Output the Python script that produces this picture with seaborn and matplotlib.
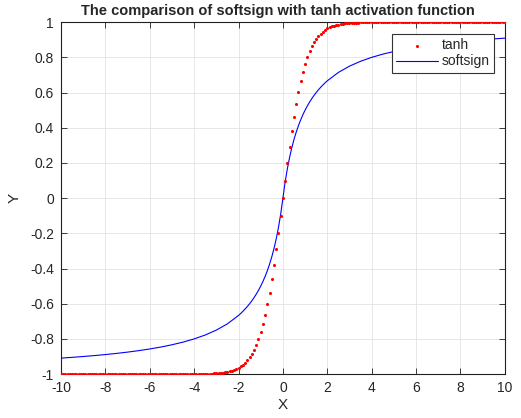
import numpy as np
import pandas as pd
import matplotlib
matplotlib.use("Agg")
import matplotlib.pyplot as plt
import seaborn as sns

# tanh samples, x = -10 .. 10 step 0.1
tanh_y = [
    -1.0, -1.0, -1.0, -1.0, -1.0, -1.0, -1.0, -1.0, -1.0, -1.0,
    -1.0, -1.0, -1.0, -1.0, -1.0, -1.0, -1.0, -1.0, -1.0, -1.0,
    -1.0, -1.0, -1.0, -1.0, -1.0, -1.0, -1.0, -1.0, -1.0, -1.0,
    -1.0, -1.0, -1.0, -1.0, -1.0, -1.0, -1.0, -1.0, -1.0, -1.0,
    -1.0, -1.0, -1.0, -1.0, -1.0, -1.0, -1.0, -1.0, -1.0, -1.0,
    -0.9999, -0.9999, -0.9999, -0.9998, -0.9998, -0.9998, -0.9997, -0.9996, -0.9996, -0.9995,
    -0.9993, -0.9992, -0.9990, -0.9988, -0.9985, -0.9982, -0.9978, -0.9973, -0.9967, -0.9959,
    -0.9951, -0.9940, -0.9926, -0.9910, -0.9890, -0.9866, -0.9837, -0.9801, -0.9757, -0.9705,
    -0.9640, -0.9562, -0.9468, -0.9354, -0.9217, -0.9051, -0.8854, -0.8617, -0.8337, -0.8005,
    -0.7616, -0.7163, -0.6640, -0.6044, -0.5370, -0.4621, -0.3799, -0.2913, -0.1974, -0.0997,
    0.0,
    0.0997, 0.1974, 0.2913, 0.3799, 0.4621, 0.5370, 0.6044, 0.6640, 0.7163, 0.7616,
    0.8005, 0.8337, 0.8617, 0.8854, 0.9051, 0.9217, 0.9354, 0.9468, 0.9562, 0.9640,
    0.9705, 0.9757, 0.9801, 0.9837, 0.9866, 0.9890, 0.9910, 0.9926, 0.9940, 0.9951,
    0.9959, 0.9967, 0.9973, 0.9978, 0.9982, 0.9985, 0.9988, 0.9990, 0.9992, 0.9993,
    0.9995, 0.9996, 0.9996, 0.9997, 0.9998, 0.9998, 0.9998, 0.9999, 0.9999, 0.9999,
    1.0, 1.0, 1.0, 1.0, 1.0, 1.0, 1.0, 1.0, 1.0, 1.0,
    1.0, 1.0, 1.0, 1.0, 1.0, 1.0, 1.0, 1.0, 1.0, 1.0,
    1.0, 1.0, 1.0, 1.0, 1.0, 1.0, 1.0, 1.0, 1.0, 1.0,
    1.0, 1.0, 1.0, 1.0, 1.0, 1.0, 1.0, 1.0, 1.0, 1.0,
    1.0, 1.0, 1.0, 1.0, 1.0, 1.0, 1.0, 1.0, 1.0, 1.0,
]
tanh_x = np.linspace(-10, 10, 201)

# softsign samples (blue line)
soft_x = [
    -10.0, -9.5, -9.0, -8.5, -8.0, -7.5, -7.0, -6.5, -6.0, -5.5, -5.0, -4.5,
    -4.0, -3.5, -3.0, -2.5,
    -2.0, -1.9, -1.8, -1.7, -1.6, -1.5, -1.4, -1.3, -1.2, -1.1,
    -1.0, -0.9, -0.8, -0.7, -0.6, -0.5, -0.4, -0.3, -0.2, -0.1,
    0.0,
    0.1, 0.2, 0.3, 0.4, 0.5, 0.6, 0.7, 0.8, 0.9, 1.0,
    1.1, 1.2, 1.3, 1.4, 1.5, 1.6, 1.7, 1.8, 1.9, 2.0,
    2.5, 3.0, 3.5, 4.0, 4.5, 5.0, 5.5, 6.0, 6.5, 7.0, 7.5, 8.0, 8.5,
    9.0, 9.5, 10.0,
]
soft_y = [
    -0.9091, -0.9048, -0.9000, -0.8947, -0.8889, -0.8824, -0.8750, -0.8667,
    -0.8571, -0.8462, -0.8333, -0.8182, -0.8000, -0.7778, -0.7500, -0.7143,
    -0.6667, -0.6552, -0.6429, -0.6296, -0.6154, -0.6000, -0.5833, -0.5652, -0.5455, -0.5238,
    -0.5000, -0.4737, -0.4444, -0.4118, -0.3750, -0.3333, -0.2857, -0.2308, -0.1667, -0.0909,
    0.0,
    0.0909, 0.1667, 0.2308, 0.2857, 0.3333, 0.3750, 0.4118, 0.4444, 0.4737, 0.5000,
    0.5238, 0.5455, 0.5652, 0.5833, 0.6000, 0.6154, 0.6296, 0.6429, 0.6552, 0.6667,
    0.7143, 0.7500, 0.7778, 0.8000, 0.8182, 0.8333, 0.8462, 0.8571, 0.8667,
    0.8750, 0.8824, 0.8889, 0.8947, 0.9000, 0.9048, 0.9091,
]

sns.set_theme(style="ticks")
plt.rcParams['font.family'] = ['Liberation Sans', 'DejaVu Sans']
plt.rcParams['axes.unicode_minus'] = False

tanh_df = pd.DataFrame({"x": tanh_x, "y": tanh_y})
soft_df = pd.DataFrame({"x": soft_x, "y": soft_y})

fig = plt.figure(figsize=(5.21, 4.18), dpi=100)
ax = fig.add_axes([0.117, 0.105, 0.852, 0.842])

sns.scatterplot(data=tanh_df, x="x", y="y", ax=ax, color="red", s=5,
                linewidth=0, label="tanh", zorder=3)
sns.lineplot(data=soft_df, x="x", y="y", ax=ax, color="blue", linewidth=0.8,
             label="softsign", zorder=2)

ax.set_xlim(-10, 10)
ax.set_ylim(-1, 1)
ax.set_xticks(np.arange(-10, 11, 2))
ax.set_yticks(np.round(np.arange(-1, 1.01, 0.2), 1))
ax.set_yticklabels(["-1", "-0.8", "-0.6", "-0.4", "-0.2", "0", "0.2", "0.4", "0.6", "0.8", "1"])
ax.grid(True, color="#e3e3e3", linewidth=0.6)
ax.set_axisbelow(True)
for sp in ax.spines.values():
    sp.set_color("#202020")
    sp.set_linewidth(0.8)
ax.tick_params(direction="in", top=True, right=True, length=4, width=0.6,
               labelsize=10, color="#202020", labelcolor="#262626", pad=5)

ax.set_title("The comparison of softsign with tanh activation function",
             fontsize=10.5, fontweight="bold", pad=5, x=0.489)
ax.set_xlabel("X", fontsize=11, labelpad=2, color="#262626")
ax.set_ylabel("Y", fontsize=11, labelpad=6, color="#262626")

leg = ax.legend(loc="upper right", bbox_to_anchor=(0.975, 0.966), borderaxespad=0,
                fontsize=10, fancybox=False, framealpha=1, edgecolor="#333333",
                handlelength=3.0, handletextpad=0.25, markerscale=1.0,
                borderpad=0.3, labelspacing=0.15)
leg.get_frame().set_linewidth(0.8)

fig.savefig("out.png", dpi=100)
